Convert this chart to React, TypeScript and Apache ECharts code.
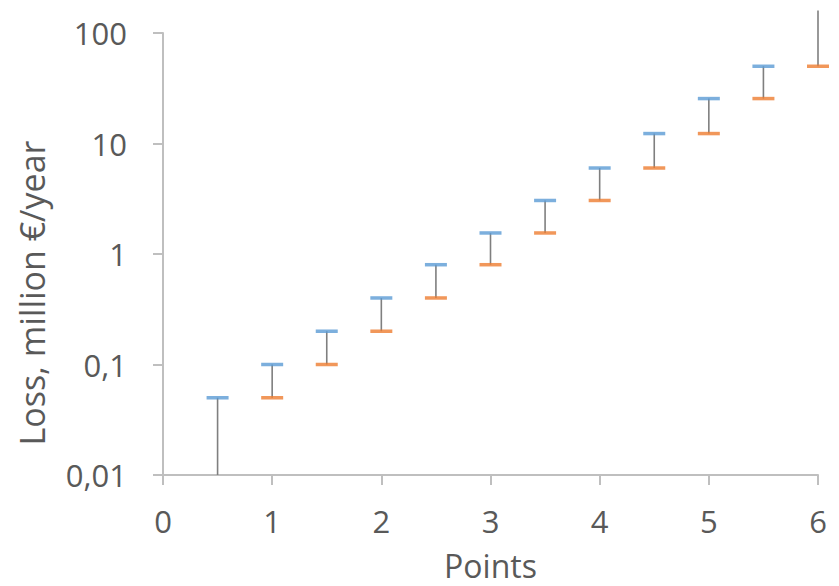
import React, { useEffect, useRef } from "react";
import * as echarts from "echarts";

const xPoints = [0.5, 1, 1.5, 2, 2.5, 3, 3.5, 4, 4.5, 5, 5.5, 6];
const upperValues = [0.05, 0.1, 0.2, 0.4, 0.8, 1.55, 3.05, 6, 12.3, 25.5, 50, 160];
const lowerValues = [0.01, 0.05, 0.1, 0.2, 0.4, 0.8, 1.55, 3.05, 6, 12.3, 25.5, 50];
const showUpperDash = [true, true, true, true, true, true, true, true, true, true, true, false];
const showLowerDash = [false, true, true, true, true, true, true, true, true, true, true, true];
const xTickLabels = ["0", "1", "2", "3", "4", "5", "6"];
const yTickLabels: Record<string, string> = { "0.01": "0,01", "0.1": "0,1", "1": "1", "10": "10", "100": "100" };
const yAxisTitle = "Loss, million €/year";
const xAxisTitle = "Points";

const FONT = "'Open Sans', sans-serif";
const TEXT = "#595959";
const AXIS = "#bfbfbf";

export default function App() {
  const ref = useRef<HTMLDivElement>(null);
  useEffect(() => {
    if (!ref.current) return;
    const chart = echarts.init(ref.current, undefined, { renderer: "svg" });
    const lineData = xPoints.map((x, i) => [x, lowerValues[i], upperValues[i]]);
    const upperData = xPoints.map((x, i) => (showUpperDash[i] ? [x, upperValues[i]] : null)).filter(Boolean);
    const lowerData = xPoints.map((x, i) => (showLowerDash[i] ? [x, lowerValues[i]] : null)).filter(Boolean);
    chart.setOption({
      animation: false,
      grid: { left: 155, right: 21, top: 25, bottom: 106, containLabel: false },
      graphic: [
        {
          type: "text",
          x: 24,
          y: 285,
          rotation: Math.PI / 2,
          style: {
            text: yAxisTitle,
            fill: TEXT,
            font: `34px ${FONT}`,
            textAlign: "center",
            textVerticalAlign: "middle",
          },
        },
      ],
      xAxis: {
        type: "value",
        min: 0,
        max: 6,
        interval: 1,
        name: xAxisTitle,
        nameLocation: "middle",
        nameGap: 74,
        nameTextStyle: { color: TEXT, fontFamily: FONT, fontSize: 32 },
        axisLine: { show: true, lineStyle: { color: AXIS, width: 2 } },
        axisTick: { show: true, length: 10, lineStyle: { color: AXIS, width: 2 } },
        splitLine: { show: false },
        axisLabel: {
          color: TEXT,
          fontFamily: FONT,
          fontSize: 31,
          margin: 30,
          formatter: (v: number) => xTickLabels[Math.round(v)] ?? String(v),
        },
      },
      yAxis: {
        type: "log",
        logBase: 10,
        min: 0.01,
        max: 100,
        axisLine: { show: true, lineStyle: { color: AXIS, width: 2 } },
        axisTick: { show: true, length: 10, lineStyle: { color: AXIS, width: 2 } },
        splitLine: { show: false },
        minorTick: { show: false },
        axisLabel: {
          color: TEXT,
          fontFamily: FONT,
          fontSize: 31,
          margin: 36,
          formatter: (v: number) => {
            const key = String(Number(v.toPrecision(6)));
            return yTickLabels[key] ?? key.replace(".", ",");
          },
        },
      },
      series: [
        {
          type: "custom",
          clip: false,
          data: lineData,
          renderItem: (params: any, api: any) => {
            const x = api.value(0);
            const p1 = api.coord([x, api.value(1)]);
            const p2 = api.coord([x, api.value(2)]);
            return {
              type: "line",
              shape: { x1: p1[0], y1: p1[1], x2: p2[0], y2: p2[1] },
              style: { stroke: "#7f7f7f", lineWidth: 1.6 },
            };
          },
          z: 2,
        },
        {
          type: "scatter",
          data: upperData,
          symbol: "rect",
          symbolSize: [22, 3.5],
          itemStyle: { color: "#5B9BD5" },
          z: 3,
        },
        {
          type: "scatter",
          data: lowerData,
          symbol: "rect",
          symbolSize: [22, 3.5],
          itemStyle: { color: "#ED7D31" },
          z: 3,
        },
      ],
    });
    return () => chart.dispose();
  }, []);
  return <div ref={ref} style={{ width: 831, height: 578 }} />;
}
